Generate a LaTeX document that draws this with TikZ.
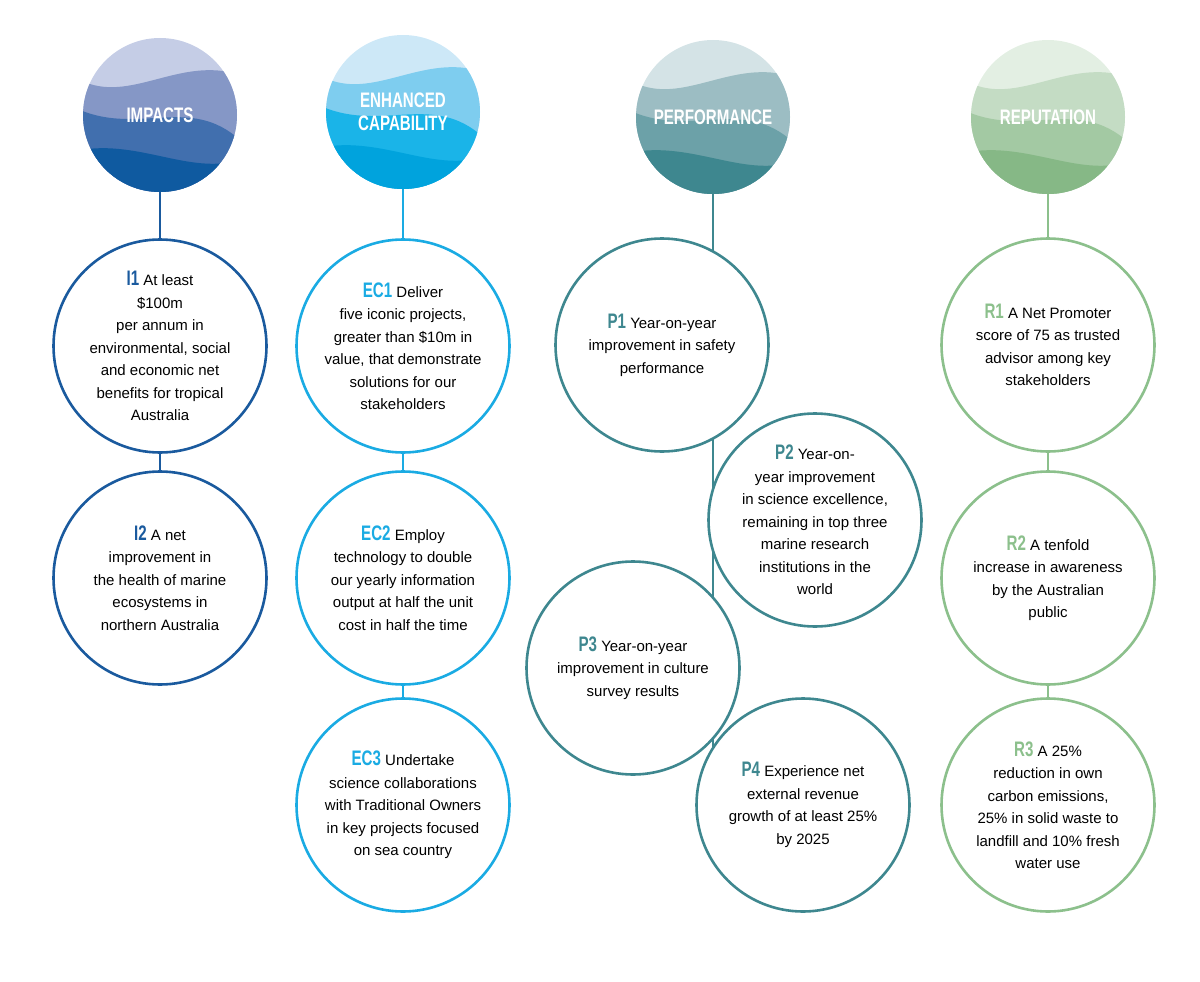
\documentclass[tikz,border=0pt]{standalone}
\usepackage{fontspec}
\setmainfont{Liberation Sans}
\newfontfamily\headfont[FakeStretch=0.72]{Liberation Sans}
\definecolor{imp}{HTML}{1A5A9E}
\definecolor{impA}{HTML}{C5CDE6}\definecolor{impB}{HTML}{8597C6}
\definecolor{impC}{HTML}{416FAE}\definecolor{impD}{HTML}{0F5AA0}
\definecolor{capab}{HTML}{1AABE3}
\definecolor{capA}{HTML}{CDE8F7}\definecolor{capB}{HTML}{7ECDEF}
\definecolor{capC}{HTML}{1AB4E8}\definecolor{capD}{HTML}{00A3DD}
\definecolor{perf}{HTML}{3E878F}
\definecolor{perfA}{HTML}{D4E3E6}\definecolor{perfB}{HTML}{9CBDC3}
\definecolor{perfC}{HTML}{6CA1A8}\definecolor{perfD}{HTML}{3E878F}
\definecolor{rep}{HTML}{8CC08C}
\definecolor{repA}{HTML}{E3EFE3}\definecolor{repB}{HTML}{C4DCC4}
\definecolor{repC}{HTML}{A3C9A3}\definecolor{repD}{HTML}{86B886}
\newcommand{\wavehead}[7]{%
  \begin{scope}[shift={(#1,#2)}]
    \clip (0,0) circle (77);
    \fill[#3] (-80,-80) rectangle (80,80);
    \fill[#4] (-80,-35) .. controls (-30,-10) and (20,-60) .. (80,-40) -- (80,80) -- (-80,80) -- cycle;
    \fill[#5] (-80,-5) .. controls (-20,20) and (30,-20) .. (80,25) -- (80,80) -- (-80,80) -- cycle;
    \fill[#6] (-80,35) .. controls (-20,25) and (30,60) .. (80,45) -- (80,80) -- (-80,80) -- cycle;
  \end{scope}
  \node[headtext] at (#1,#2) {#7};}
\tikzset{
  goal/.style={circle, draw, line width=2.6pt, fill=white, minimum size=213pt,
    align=center, font=\fontsize{15}{22.5}\selectfont, inner sep=0pt},
  headtext/.style={text=white, align=center, font=\headfont\bfseries\fontsize{21}{23}\selectfont},
  stem/.style={line width=2.6pt}
}
\newcommand{\tag}[2]{{\color{#1}\headfont\bfseries\fontsize{21}{21}\selectfont #2}}
\begin{document}
\begin{tikzpicture}[x=1pt,y=-1pt]
\useasboundingbox (0,0) rectangle (1200,982);
% stems
\draw[stem, draw=imp] (160,115) -- (160,578);
\draw[stem, draw=capab] (403,115) -- (403,805);
\draw[stem, draw=perf] (713,117) -- (713,760);
\draw[stem, draw=rep] (1048,117) -- (1048,805);
% headers
\wavehead{160}{115}{impA}{impB}{impC}{impD}{IMPACTS}
\wavehead{403}{112}{capA}{capB}{capC}{capD}{ENHANCED\\CAPABILITY}
\wavehead{713}{117}{perfA}{perfB}{perfC}{perfD}{PERFORMANCE}
\wavehead{1048}{117}{repA}{repB}{repC}{repD}{REPUTATION}
% impacts
\node[goal, draw=imp] (i1) at (160,346) {\tag{imp}{I1} At least\\\$100m\\per annum in\\environmental, social\\and economic net\\benefits for tropical\\Australia};
\node[goal, draw=imp] (i2) at (160,578) {\tag{imp}{I2} A net\\improvement in\\the health of marine\\ecosystems in\\northern Australia};
% capability
\node[goal, draw=capab] (ec1) at (403,346) {\tag{capab}{EC1} Deliver\\five iconic projects,\\greater than \$10m in\\value, that demonstrate\\solutions for our\\stakeholders};
\node[goal, draw=capab] (ec2) at (403,578) {\tag{capab}{EC2} Employ\\technology to double\\our yearly information\\output at half the unit\\cost in half the time};
\node[goal, draw=capab] (ec3) at (403,805) {\tag{capab}{EC3} Undertake\\science collaborations\\with Traditional Owners\\in key projects focused\\on sea country};
% performance
\node[goal, draw=perf] (p1) at (662,345) {\tag{perf}{P1} Year-on-year\\improvement in safety\\performance};
\node[goal, draw=perf] (p2) at (815,520) {\tag{perf}{P2} Year-on-\\year improvement\\in science excellence,\\remaining in top three\\marine research\\institutions in the\\world};
\node[goal, draw=perf] (p3) at (633,668) {\tag{perf}{P3} Year-on-year\\improvement in culture\\survey results};
\node[goal, draw=perf] (p4) at (803,805) {\tag{perf}{P4} Experience net\\external revenue\\growth of at least 25\%\\by 2025};
% reputation
\node[goal, draw=rep] (r1) at (1048,345) {\tag{rep}{R1} A Net Promoter\\score of 75 as trusted\\advisor among key\\stakeholders};
\node[goal, draw=rep] (r2) at (1048,578) {\tag{rep}{R2} A tenfold\\increase in awareness\\by the Australian\\public};
\node[goal, draw=rep] (r3) at (1048,805) {\tag{rep}{R3} A 25\%\\reduction in own\\carbon emissions,\\25\% in solid waste to\\landfill and 10\% fresh\\water use};
\end{tikzpicture}
\end{document}
